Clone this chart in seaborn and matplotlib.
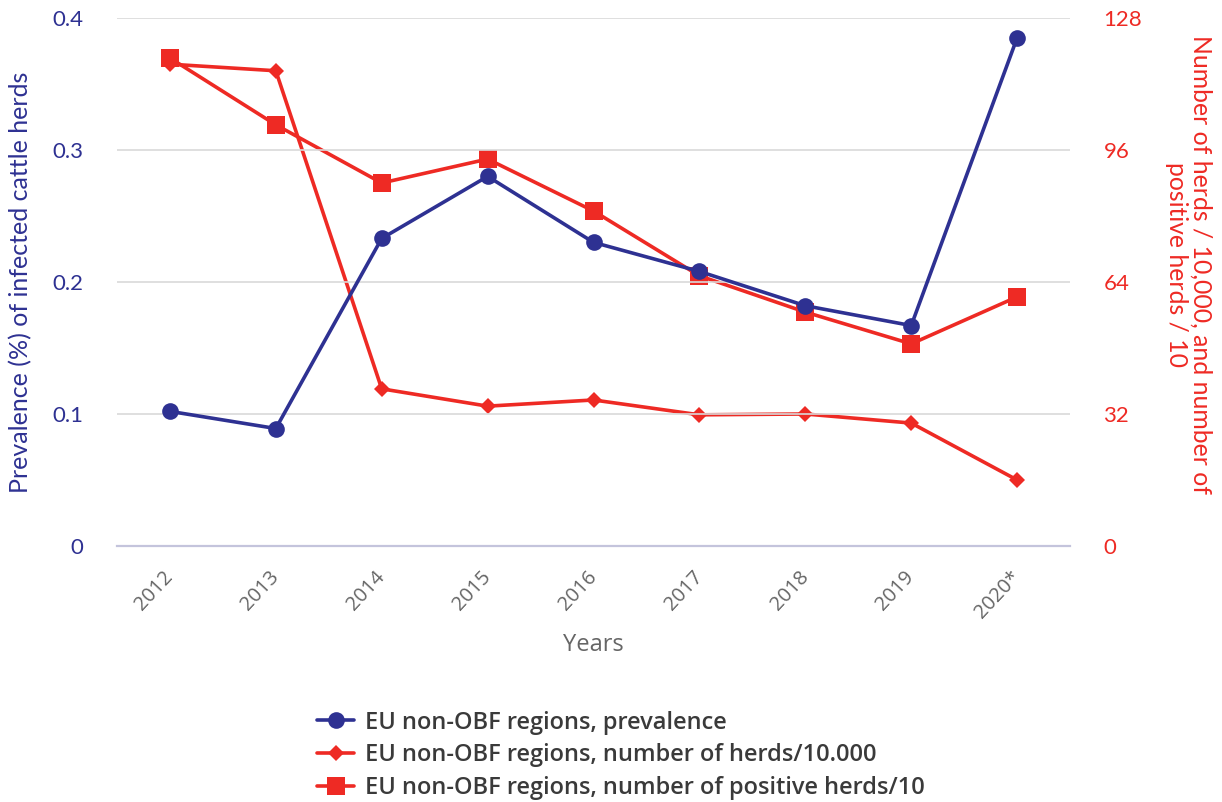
import matplotlib
matplotlib.use("Agg")
import matplotlib.pyplot as plt
import seaborn as sns
import pandas as pd

years = ["2012", "2013", "2014", "2015", "2016", "2017", "2018", "2019", "2020*"]
prevalence = [0.102, 0.089, 0.233, 0.280, 0.230, 0.208, 0.182, 0.167, 0.385]
herds_10000 = [116.8, 115.2, 38.1, 33.9, 35.4, 31.8, 32.0, 29.8, 16.0]
positive_herds_10 = [118.3, 102.1, 88.0, 93.8, 81.2, 65.5, 56.7, 49.0, 60.4]

left_ticks = [0, 0.1, 0.2, 0.3, 0.4]
left_tick_labels = ["0", "0.1", "0.2", "0.3", "0.4"]
right_ticks = [0, 32, 64, 96, 128]

BLUE = "#2e3192"
RED = "#ee2a24"
GRAY = "#666666"

sns.set_style("white")
plt.rcParams["font.family"] = ["Lato", "DejaVu Sans"]

df = pd.DataFrame({"pos": range(len(years)), "year": years,
                   "prev": prevalence, "herds": herds_10000, "pos_herds": positive_herds_10})

fig = plt.figure(figsize=(12.22, 8.02), dpi=100)
ax = fig.add_axes([0.0957, 0.3192, 0.78, 0.6584])
ax2 = ax.twinx()

sns.lineplot(data=df, x="pos", y="prev", ax=ax, color=BLUE, linewidth=2.6,
             marker="o", markersize=12, markeredgewidth=0, label="EU non-OBF regions, prevalence",
             legend=False, zorder=3)
sns.lineplot(data=df, x="pos", y="herds", ax=ax2, color=RED, linewidth=2.6,
             marker="D", markersize=8.5, markeredgewidth=0,
             label="EU non-OBF regions, number of herds/10.000", legend=False)
sns.lineplot(data=df, x="pos", y="pos_herds", ax=ax2, color=RED, linewidth=2.6,
             marker="s", markersize=12.5, markeredgewidth=0,
             label="EU non-OBF regions, number of positive herds/10", legend=False)

ax.set_xlim(-0.5, len(years) - 0.5)
ax.set_ylim(0, 0.4)
ax2.set_ylim(0, 128)
ax.set_yticks(left_ticks)
ax.set_yticklabels(left_tick_labels)
ax2.set_yticks(right_ticks)
ax2.set_yticklabels([str(t) for t in right_ticks])

ax.set_xticks(range(len(years)))
ax.set_xticklabels(years, rotation=47, ha="right", va="center", rotation_mode="anchor",
                   color=GRAY, fontsize=14.5, family=["Open Sans", "DejaVu Sans"])
ax.tick_params(axis="x", length=0, pad=20)
ax.tick_params(axis="y", length=0, labelcolor=BLUE, labelsize=16, pad=24)
ax2.tick_params(axis="y", length=0, labelcolor=RED, labelsize=16, pad=24)

ax.yaxis.grid(True, color="#d9d9d9", linewidth=1.2)
ax.set_axisbelow(True)
for a in (ax, ax2):
    for s in ["top", "left", "right", "bottom"]:
        a.spines[s].set_visible(False)
ax.spines["bottom"].set_visible(True)
ax.spines["bottom"].set_color("#c4c4dc")
ax.spines["bottom"].set_linewidth(1.6)

ax.set_zorder(ax2.get_zorder() + 1)
ax.patch.set_visible(False)

ax.set_xlabel("Years", color=GRAY, fontsize=17, family=["Open Sans", "DejaVu Sans"])
ax.xaxis.set_label_coords(0.5, -0.165)
ax.set_ylabel("Prevalence (%) of infected cattle herds", color=BLUE, fontsize=18)
ax.yaxis.set_label_coords(-0.089, 0.5)
ax2.set_ylabel("Number of herds / 10,000, and number of\npositive herds / 10", color=RED,
               fontsize=17.8, rotation=270, linespacing=1.05)
ax2.yaxis.set_label_coords(1.149, 0.534)

h1, l1 = ax.get_legend_handles_labels()
h2, l2 = ax2.get_legend_handles_labels()
fig.legend(h1 + h2, l1 + l2, loc="center", bbox_to_anchor=(0.508, 0.058), frameon=False,
           handlelength=1.55, handletextpad=0.45, labelspacing=0.38,
           labelcolor="#3a3a3a", prop={"family": ["Open Sans", "DejaVu Sans"], "size": 17, "weight": "semibold"})

fig.savefig("out.png", dpi=100)
